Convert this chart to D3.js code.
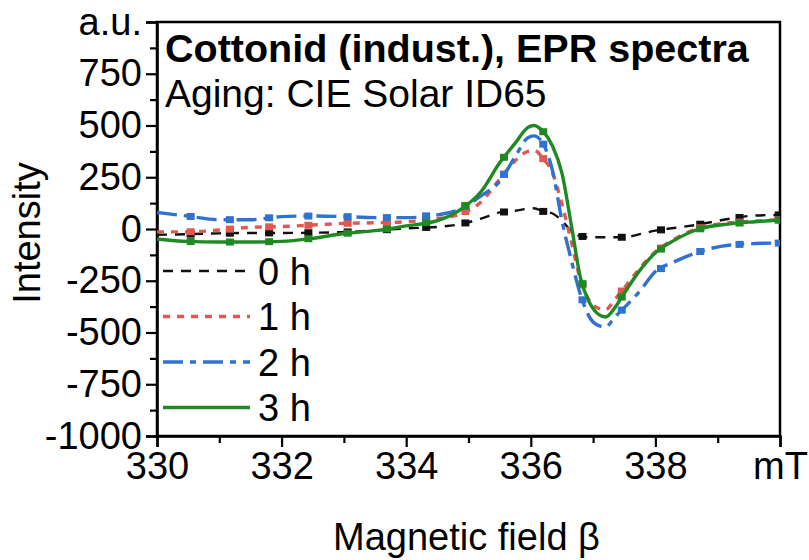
<!DOCTYPE html>
<html>
<head>
<meta charset="utf-8">
<script src="https://cdn.jsdelivr.net/npm/d3@7"></script>
<style>
  body { margin: 0; background: #fff; }
  text { font-family: "Liberation Sans", Arial, sans-serif; fill: #000; }
</style>
</head>
<body>
<svg id="chart" width="809" height="560"></svg>
<script>
// Magnetic field grid (mT) shared by all spectra
const field = [330, 330.5, 331, 331.5, 332, 332.5, 333, 333.5, 334, 334.5, 334.9, 335.2, 335.5, 335.75,
  335.95, 336.05, 336.2, 336.35, 336.5, 336.65, 336.8, 336.95, 337.1, 337.2, 337.35, 337.5, 337.75,
  338.0, 338.3, 338.7, 339.2, 339.6, 340];

// EPR first-derivative intensities (a.u.) after each aging time
const intensity0h = [-28, -25, -21, -19, -19, -18, -15, -7, 3, 10, 25, 50, 80, 88,
  98, 100, 85, 75, 40, -10, -35, -40, -40, -40, -40, -40, -25,
  -8, 5, 22, 50, 65, 68];
const intensity1h = [-14, -14, -5, 8, 12, 19, 27, 30, 35, 50, 75, 130, 240, 330,
  375, 380, 340, 270, 120, -60, -250, -350, -385, -390, -340, -285, -190,
  -110, -50, 5, 30, 38, 45];
const intensity2h = [80, 62, 45, 45, 60, 63, 60, 55, 55, 68, 100, 160, 230, 350,
  440, 450, 410, 280, 40, -150, -320, -430, -468, -473, -425, -380, -300,
  -205, -159, -110, -77, -70, -68];
const intensity3h = [-48, -60, -63, -63, -60, -45, -22, -8, 15, 40, 100, 180, 320, 415,
  490, 500, 470, 400, 270, 20, -240, -360, -415, -425, -380, -310, -200,
  -115, -55, 0, 25, 35, 43];

const seriesLabels = ["0 h", "1 h", "2 h", "3 h"];
const seriesValues = [intensity0h, intensity1h, intensity2h, intensity3h];

// Field positions where the plotting symbols sit
const markerField = [330.54, 331.17, 331.8, 332.43, 333.06, 333.69, 334.32, 334.95, 335.57,
  336.2, 336.83, 337.46, 338.09, 338.72, 339.35, 339.98];

const xTickValues = [330, 332, 334, 336, 338, 340];
const xTickLabels = ["330", "332", "334", "336", "338", "mT"];
const xMinorValues = [331, 333, 335, 337, 339];
const yTickValues = [-1000, -750, -500, -250, 0, 250, 500, 750, 1000];
const yTickLabels = ["-1000", "-750", "-500", "-250", "0", "250", "500", "750", "a.u."];
const yMinorValues = [-875, -625, -375, -125, 125, 375, 625, 875];

const titleText = "Cottonid (indust.), EPR spectra";
const subtitleText = "Aging: CIE Solar ID65";

// Line styles per series
const styles = [
  { color: "#111111", width: 2.4, dash: "10,8" },
  { color: "#e2574f", width: 3.4, dash: "7,7" },
  { color: "#2f72cf", width: 3.4, dash: "20,7,6,7" },
  { color: "#1f8a24", width: 3.4, dash: null }
];

const svg = d3.select("#chart");
const margin = { left: 157, right: 29, top: 22, bottom: 124 };
const W = 809, H = 560;
const x = d3.scaleLinear().domain([330, 340]).range([margin.left, W - margin.right]);
const y = d3.scaleLinear().domain([-1000, 1000]).range([H - margin.bottom, margin.top]);

svg.append("defs").append("clipPath").attr("id", "plotClip")
  .append("rect")
  .attr("x", x(330)).attr("y", y(1000))
  .attr("width", x(340) - x(330)).attr("height", y(-1000) - y(1000));

const FONT = 38;

// Axes
const xAxis = svg.append("g")
  .attr("transform", `translate(0,${y(-1000)})`)
  .call(d3.axisBottom(x).tickValues(xTickValues)
    .tickFormat((d, i) => xTickLabels[i]).tickSize(11).tickPadding(5));
xAxis.selectAll("text").style("font-size", FONT + "px");

svg.append("g")
  .attr("transform", `translate(0,${y(-1000)})`)
  .call(d3.axisBottom(x).tickValues(xMinorValues).tickFormat("").tickSize(7))
  .select(".domain").remove();

const yAxis = svg.append("g")
  .attr("transform", `translate(${x(330)},0)`)
  .call(d3.axisLeft(y).tickValues(yTickValues)
    .tickFormat((d, i) => yTickLabels[i]).tickSize(11).tickPadding(4));
yAxis.selectAll("text").style("font-size", FONT + "px");

svg.append("g")
  .attr("transform", `translate(${x(330)},0)`)
  .call(d3.axisLeft(y).tickValues(yMinorValues).tickFormat("").tickSize(7))
  .select(".domain").remove();

svg.selectAll(".tick line").attr("stroke", "#000").attr("stroke-width", 2.2);
svg.selectAll(".domain").attr("stroke", "#000").attr("stroke-width", 2.5);

// Frame (top and right edges)
svg.append("rect")
  .attr("x", x(330)).attr("y", y(1000))
  .attr("width", x(340) - x(330)).attr("height", y(-1000) - y(1000))
  .attr("fill", "none").attr("stroke", "#000").attr("stroke-width", 2.5);

// Spectra
const line = d3.line()
  .x((d, i) => x(field[i]))
  .y(d => y(d))
  .curve(d3.curveMonotoneX);

const plot = svg.append("g").attr("clip-path", "url(#plotClip)");

function valueAt(values, f) {
  const i = Math.max(1, Math.min(field.length - 1, d3.bisectLeft(field, f)));
  const t = (f - field[i - 1]) / (field[i] - field[i - 1]);
  return values[i - 1] + t * (values[i] - values[i - 1]);
}

seriesValues.forEach((vals, k) => {
  const s = styles[k];
  plot.append("path")
    .datum(vals)
    .attr("fill", "none")
    .attr("stroke", s.color)
    .attr("stroke-width", s.width)
    .attr("stroke-dasharray", s.dash)
    .attr("stroke-linejoin", "round")
    .attr("d", line);
  plot.selectAll(null)
    .data(markerField)
    .enter().append("rect")
    .attr("x", f => x(f) - 4)
    .attr("y", f => y(valueAt(vals, f)) - 3.5)
    .attr("width", 8).attr("height", 7)
    .attr("fill", s.color);
});

// Title block
svg.append("text")
  .attr("x", 165).attr("y", 62)
  .style("font-size", "39.5px").style("font-weight", "bold")
  .text(titleText);
svg.append("text")
  .attr("x", 165).attr("y", 107)
  .style("font-size", "39px")
  .text(subtitleText);

// Legend
const legend = svg.append("g");
seriesLabels.forEach((lab, k) => {
  const s = styles[k];
  const ly = 271 + k * 45.5;
  legend.append("line")
    .attr("x1", 163).attr("x2", 250).attr("y1", ly).attr("y2", ly)
    .attr("stroke", s.color).attr("stroke-width", s.width)
    .attr("stroke-dasharray", s.dash);
  legend.append("text")
    .attr("x", 258).attr("y", ly).attr("dy", "0.36em")
    .style("font-size", FONT + "px")
    .text(lab);
});

// Axis titles
svg.append("text")
  .attr("x", (x(330) + x(340)) / 2 - 2).attr("y", 550)
  .attr("text-anchor", "middle")
  .style("font-size", FONT + "px")
  .text("Magnetic field β");
svg.append("text")
  .attr("transform", `translate(40,${y(0) + 4}) rotate(-90)`)
  .attr("text-anchor", "middle")
  .style("font-size", FONT + "px")
  .text("Intensity");
</script>
</body>
</html>
